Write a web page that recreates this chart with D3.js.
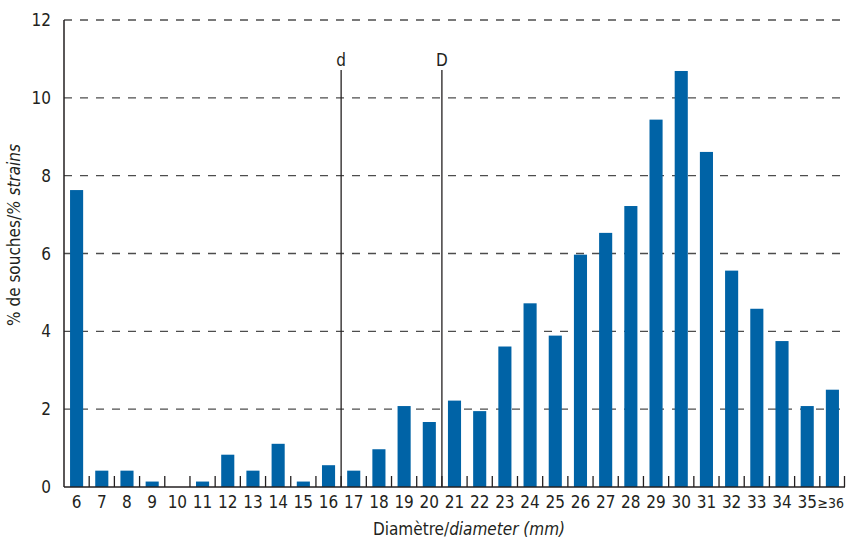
<!DOCTYPE html>
<html>
<head>
<meta charset="utf-8">
<script src="https://cdn.jsdelivr.net/npm/d3@7"></script>
<style>
  body { margin: 0; background: #fff; }
  svg text { font-family: "Liberation Sans Narrow", "DejaVu Sans Condensed", "Liberation Sans", sans-serif; fill: #231f20; }
</style>
</head>
<body>
<div id="chart"></div>
<script>
// diameter classes (mm)
const categories = ["6","7","8","9","10","11","12","13","14","15","16","17","18","19","20",
  "21","22","23","24","25","26","27","28","29","30","31","32","33","34","35","≥36"];
// % of strains per class
const values = [7.63, 0.42, 0.42, 0.14, 0, 0.14, 0.83, 0.42, 1.11, 0.14, 0.56, 0.42, 0.97, 2.08, 1.67,
  2.22, 1.95, 3.61, 4.72, 3.89, 5.97, 6.53, 7.22, 9.44, 10.69, 8.61, 5.56, 4.58, 3.75, 2.08, 2.5];
const yTicks = [0, 2, 4, 6, 8, 10, 12];
// breakpoints drawn as vertical lines (placed before these classes)
const markers = [{ label: "d", before: "17" }, { label: "D", before: "21" }];

const width = 847, height = 538;
const margin = { top: 20, right: 2, bottom: 51, left: 64 };

const svg = d3.select("#chart").append("svg")
  .attr("width", width)
  .attr("height", height);

const x = d3.scaleBand()
  .domain(categories)
  .range([margin.left, width - margin.right])
  .paddingInner(0.48)
  .paddingOuter(0.24);

const y = d3.scaleLinear()
  .domain([0, 12])
  .range([height - margin.bottom, margin.top]);

const step = x.step();
const boundary = c => x(c) - step * 0.24;

// gridlines
svg.append("g")
  .selectAll("line")
  .data(yTicks.filter(t => t > 0))
  .join("line")
  .attr("x1", margin.left)
  .attr("x2", width - margin.right)
  .attr("y1", d => y(d))
  .attr("y2", d => y(d))
  .attr("stroke", "#4d4d4d")
  .attr("stroke-width", 1.3)
  .attr("stroke-dasharray", "8,8");

// bars
svg.append("g")
  .selectAll("rect")
  .data(values)
  .join("rect")
  .attr("x", (d, i) => x(categories[i]))
  .attr("width", x.bandwidth())
  .attr("y", d => y(d))
  .attr("height", d => y(0) - y(d))
  .attr("fill", "#0063a6");

// d / D markers
const mk = svg.append("g");
markers.forEach(m => {
  const mx = boundary(m.before);
  mk.append("line")
    .attr("x1", mx).attr("x2", mx)
    .attr("y1", 70).attr("y2", y(0))
    .attr("stroke", "#231f20")
    .attr("stroke-width", 1.3);
  mk.append("text")
    .attr("x", mx)
    .attr("y", 66)
    .attr("text-anchor", "middle")
    .style("font-size", "17px")
    .text(m.label);
});

// x axis: baseline + boundary ticks pointing up
const xa = svg.append("g");
xa.append("line")
  .attr("x1", margin.left).attr("x2", width - margin.right)
  .attr("y1", y(0)).attr("y2", y(0))
  .attr("stroke", "#231f20").attr("stroke-width", 1.5);
const tickPos = categories.slice(1).map(boundary).concat([width - margin.right - 0.5]);
xa.selectAll("line.tick")
  .data(tickPos)
  .join("line")
  .attr("class", "tick")
  .attr("x1", d => d).attr("x2", d => d)
  .attr("y1", y(0)).attr("y2", y(0) - 11)
  .attr("stroke", "#231f20").attr("stroke-width", 1.3);
xa.selectAll("text")
  .data(categories)
  .join("text")
  .attr("x", d => x(d) + x.bandwidth() / 2)
  .attr("y", 508)
  .attr("text-anchor", "middle")
  .style("font-size", "17px")
  .text(d => d)
  // shrink labels that are wider than their band, keep them inside the frame
  .each(function () {
    let fs = 17;
    while (this.getComputedTextLength() > step + 2 && fs > 13) {
      fs -= 0.5;
      this.style.fontSize = fs + "px";
    }
    const w = this.getComputedTextLength();
    const cx = +this.getAttribute("x");
    if (cx + w / 2 > width - 3) this.setAttribute("x", width - 3 - w / 2);
  });

// y axis
const ya = svg.append("g");
ya.append("line")
  .attr("x1", margin.left).attr("x2", margin.left)
  .attr("y1", y(12)).attr("y2", y(0))
  .attr("stroke", "#231f20").attr("stroke-width", 1.5);
ya.selectAll("text")
  .data(yTicks)
  .join("text")
  .attr("x", 51)
  .attr("y", d => y(d))
  .attr("dy", "0.36em")
  .attr("text-anchor", "end")
  .style("font-size", "17px")
  .text(d => d);

// axis titles
const xt = svg.append("text")
  .attr("x", 469)
  .attr("y", 535)
  .attr("text-anchor", "middle")
  .style("font-size", "17px");
xt.append("tspan").text("Diamètre/");
xt.append("tspan").style("font-style", "italic").text("diameter (mm)");

const yt = svg.append("text")
  .attr("transform", "translate(20,235) rotate(-90)")
  .attr("text-anchor", "middle")
  .style("font-size", "17px");
yt.append("tspan").text("% de souches/");
yt.append("tspan").style("font-style", "italic").text("% strains");
</script>
</body>
</html>
